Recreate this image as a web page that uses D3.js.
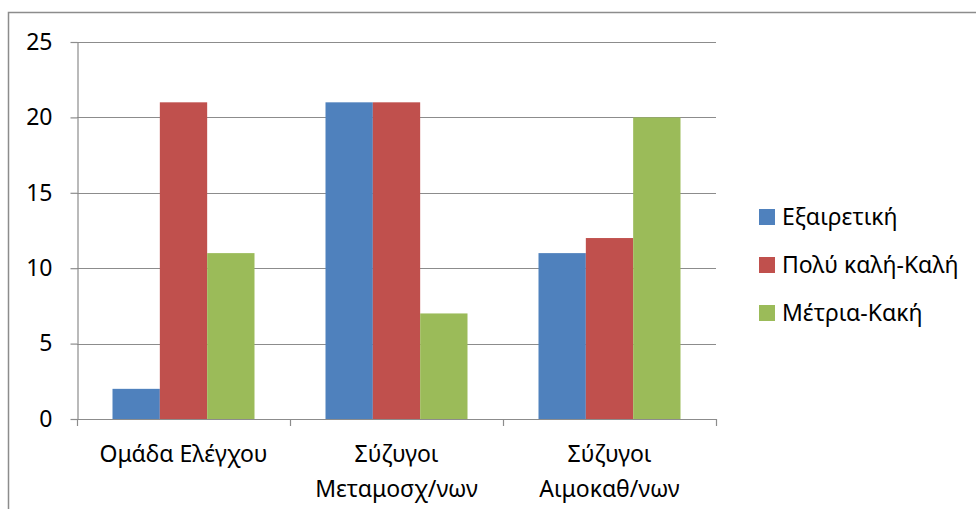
<!DOCTYPE html>
<html>
<head>
<meta charset="utf-8">
<script src="https://cdn.jsdelivr.net/npm/d3@7"></script>
<style>
  html, body { margin: 0; padding: 0; background: #fff; }
  svg { display: block; }
  text { font-family: "Noto Sans", "Open Sans", sans-serif; fill: #000; }
</style>
</head>
<body>
<svg id="chart" width="976" height="509"></svg>
<script>
// Groups along the x axis (each label may span two lines)
const categories = [
  ["Ομάδα Ελέγχου"],
  ["Σύζυγοι", "Μεταμοσχ/νων"],
  ["Σύζυγοι", "Αιμοκαθ/νων"]
];
const seriesNames = ["Εξαιρετική", "Πολύ καλή-Καλή", "Μέτρια-Κακή"];
const seriesColors = ["#4F81BD", "#C0504D", "#9BBB59"];
// One array per series, one value per group
const excellent = [2, 21, 11];
const good = [21, 21, 12];
const poor = [11, 7, 20];
const values = [excellent, good, poor];
const yTicks = [0, 5, 10, 15, 20, 25];

const FONT = 23;
const svg = d3.select("#chart");

// Chart frame (top and left edges visible)
svg.append("rect")
  .attr("x", 8.5).attr("y", 12.5)
  .attr("width", 1200).attr("height", 1200)
  .attr("fill", "none").attr("stroke", "#8c8c8c").attr("stroke-width", 1.5);

const plot = { left: 77, right: 716, top: 42, bottom: 419 };

const x0 = d3.scaleBand()
  .domain(d3.range(categories.length))
  .range([plot.left, plot.right])
  .paddingInner(0).paddingOuter(0);

// 150% gap between groups: 3 bars + 1.5 bar widths per band
const barW = x0.bandwidth() / 4.5;
const x1 = d3.scaleBand()
  .domain(d3.range(seriesNames.length))
  .range([0.75 * barW, 3.75 * barW])
  .padding(0);

const y = d3.scaleLinear().domain([0, 25]).range([plot.bottom, plot.top]);

// Horizontal gridlines
svg.append("g").selectAll("line")
  .data(yTicks.filter(t => t > 0))
  .join("line")
  .attr("x1", plot.left).attr("x2", plot.right)
  .attr("y1", d => Math.round(y(d)) + 0.5).attr("y2", d => Math.round(y(d)) + 0.5)
  .attr("stroke", "#8c8c8c").attr("stroke-width", 1.2);

// Y axis
const yAxis = svg.append("g")
  .attr("transform", `translate(${plot.left + 0.5},0)`)
  .call(d3.axisLeft(y).tickValues(yTicks).tickSize(7).tickPadding(18).tickSizeOuter(0));
yAxis.select(".domain").attr("stroke", "#8c8c8c").attr("stroke-width", 1.2);
yAxis.selectAll(".tick line").attr("stroke", "#8c8c8c").attr("stroke-width", 1.2);
yAxis.selectAll(".tick text")
  .attr("font-size", FONT).attr("font-family", "'Noto Sans', 'Open Sans', sans-serif")
  .attr("fill", "#000");

// Bars
const groups = svg.append("g").selectAll("g")
  .data(categories.map((c, i) => i))
  .join("g")
  .attr("transform", i => `translate(${x0(i)},0)`);

groups.selectAll("rect")
  .data(i => values.map((row, s) => ({ s, v: row[i] })))
  .join("rect")
  .attr("x", d => x1(d.s))
  .attr("width", x1.bandwidth())
  .attr("y", d => y(d.v))
  .attr("height", d => y(0) - y(d.v))
  .attr("fill", d => seriesColors[d.s]);

// X axis baseline and tick marks at band edges
const xa = svg.append("g");
xa.append("line")
  .attr("x1", plot.left).attr("x2", plot.right)
  .attr("y1", plot.bottom + 0.5).attr("y2", plot.bottom + 0.5)
  .attr("stroke", "#8c8c8c").attr("stroke-width", 1.2);
xa.selectAll("line.tk")
  .data(d3.range(categories.length + 1))
  .join("line").attr("class", "tk")
  .attr("x1", i => Math.round(plot.left + i * x0.step()) + 0.5)
  .attr("x2", i => Math.round(plot.left + i * x0.step()) + 0.5)
  .attr("y1", plot.bottom).attr("y2", plot.bottom + 7)
  .attr("stroke", "#8c8c8c").attr("stroke-width", 1.2);

// Category labels
svg.append("g").selectAll("text")
  .data(categories)
  .join("text")
  .attr("text-anchor", "middle")
  .attr("font-size", FONT)
  .attr("transform", (d, i) => `translate(${x0(i) + x0.bandwidth() / 2},0)`)
  .selectAll("tspan")
  .data(d => d)
  .join("tspan")
  .attr("x", 0)
  .attr("y", (d, j) => 462 + j * 35)
  .text(d => d);

// Legend
const legend = svg.append("g").selectAll("g")
  .data(seriesNames)
  .join("g")
  .attr("transform", (d, i) => `translate(759,${217 + i * 48})`);
legend.append("rect")
  .attr("x", 0).attr("y", -8)
  .attr("width", 16).attr("height", 16)
  .attr("fill", (d, i) => seriesColors[i]);
legend.append("text")
  .attr("x", 23).attr("y", 8)
  .attr("font-size", FONT)
  .text(d => d);
</script>
</body>
</html>
